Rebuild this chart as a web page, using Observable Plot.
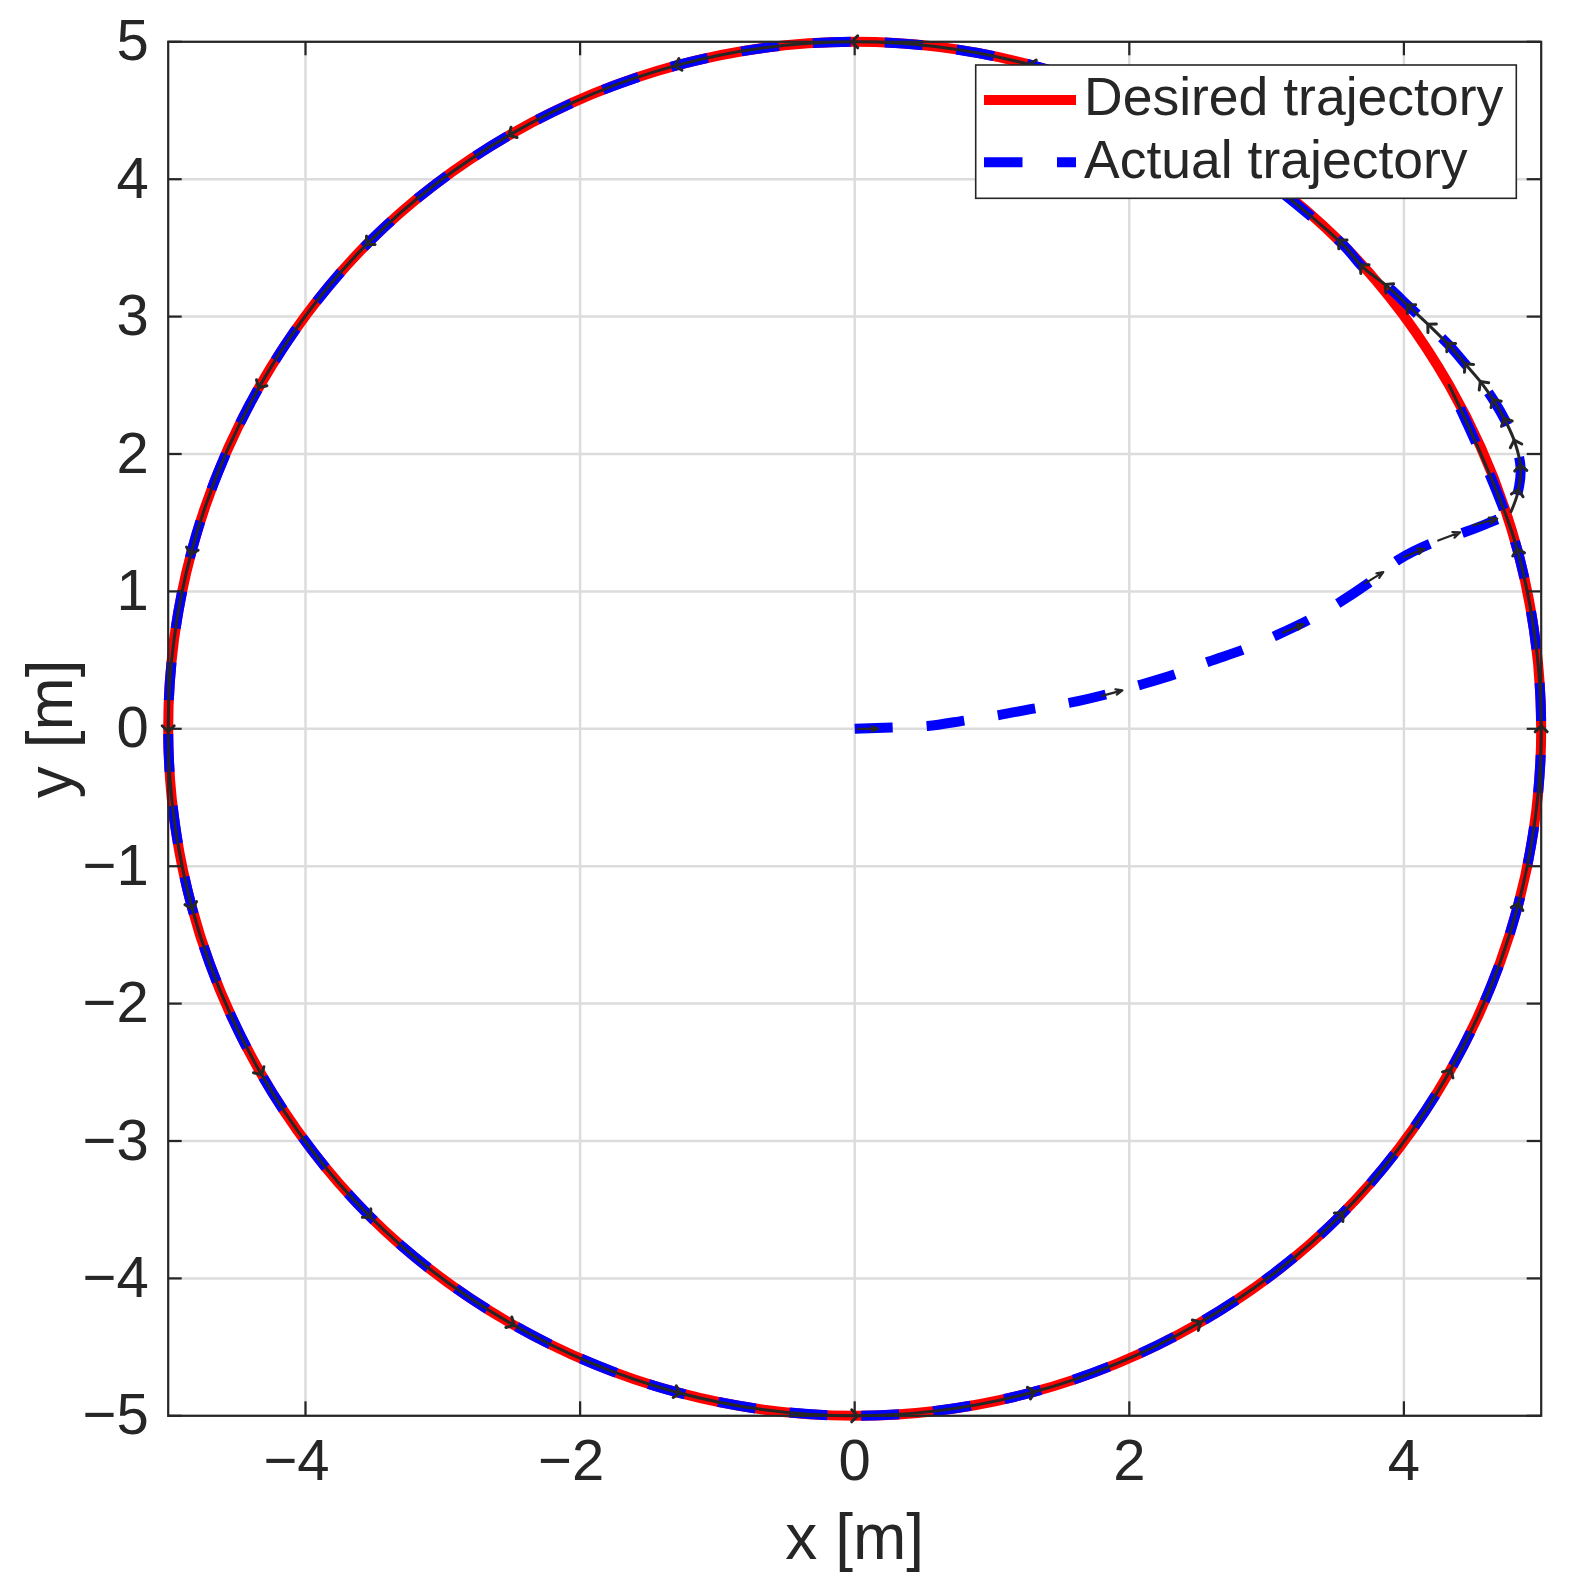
<!DOCTYPE html>
<html>
<head>
<meta charset="utf-8">
<script src="https://cdn.jsdelivr.net/npm/d3@7"></script>
<script src="https://cdn.jsdelivr.net/npm/@observablehq/plot@0.6"></script>
<style>
  html, body { margin: 0; padding: 0; background: #fff; overflow: hidden; }
  #chart { width: 1569px; height: 1590px; }
</style>
</head>
<body>
<div id="chart"></div>
<script>
// ticks and axis labels
const xTicks = [-4, -2, 0, 2, 4];
const yTicks = [-5, -4, -3, -2, -1, 0, 1, 2, 3, 4, 5];
const xLabel = "x [m]";
const yLabel = "y [m]";
const legendNames = ["Desired trajectory", "Actual trajectory"];

// desired trajectory: the reference circle, read every 15 degrees
const desiredX = [5, 4.83, 4.33, 3.54, 2.5, 1.29, 0, -1.29, -2.5, -3.54, -4.33, -4.83,
                  -5, -4.83, -4.33, -3.54, -2.5, -1.29, 0, 1.29, 2.5, 3.54, 4.33, 4.83];
const desiredY = [0, 1.29, 2.5, 3.54, 4.33, 4.83, 5, 4.83, 4.33, 3.54, 2.5, 1.29,
                  0, -1.29, -2.5, -3.54, -4.33, -4.83, -5, -4.83, -4.33, -3.54, -2.5, -1.29];

// actual trajectory: approach from the origin, overshoot loop, then one lap on the circle
const actualX = [0, 0.27, 0.53, 0.80, 1.05, 1.32, 1.57, 1.83, 2.08, 2.34, 2.58, 2.84, 3.07, 3.32, 3.53, 3.77, 3.96, 4.20, 4.44, 4.62, 4.78,
                 4.83, 4.85, 4.81, 4.74, 4.66, 4.57, 4.46, 4.33, 4.19, 4.04, 3.88, 3.70,
                 3.54, 2.5, 1.29, 0, -1.29, -2.5, -3.54, -4.33, -4.83, -5, -4.83, -4.33, -3.54, -2.5, -1.29,
                 0, 1.29, 2.5, 3.54, 4.33, 4.83, 5, 4.83, 4.33];
const actualY = [0, 0.01, 0.02, 0.06, 0.10, 0.15, 0.19, 0.25, 0.32, 0.40, 0.49, 0.58, 0.68, 0.80, 0.92, 1.08, 1.23, 1.35, 1.43, 1.50, 1.58,
                 1.72, 1.90, 2.08, 2.24, 2.38, 2.51, 2.64, 2.79, 2.93, 3.07, 3.22, 3.36,
                 3.54, 4.33, 4.83, 5, 4.83, 4.33, 3.54, 2.5, 1.29, 0, -1.29, -2.5, -3.54, -4.33, -4.83,
                 -5, -4.83, -4.33, -3.54, -2.5, -1.29, 0, 1.29, 2.5];

// quiver arrows visible along the approach
const quiverX1 = [0.02, 1.80, 3.12, 3.72, 4.00, 4.25, 4.50];
const quiverY1 = [0.00, 0.24, 0.70, 1.06, 1.25, 1.37, 1.48];
const quiverX2 = [0.17, 1.95, 3.27, 3.85, 4.15, 4.41, 4.68];
const quiverY2 = [0.00, 0.28, 0.76, 1.14, 1.31, 1.43, 1.53];

const renderChart = () => {
    const ink = "#262626";
    const red = "#ff0000";
    const blue = "#0000ff";
    const dash = "38,34";
    const font = '"Liberation Sans", Arial, Helvetica, sans-serif';

    const desired = desiredX.map((x, i) => ({x, y: desiredY[i]}));
    const actual = actualX.map((x, i) => ({x, y: actualY[i]}));
    // the dense quiver merges into a thin line once the robot reaches the circle
    const junction = actualX.findIndex((x) => x >= 4.75);
    const tracked = actual.slice(junction);
    const quiver = quiverX1.map((x1, i) => ({x1, y1: quiverY1[i], x2: quiverX2[i], y2: quiverY2[i]}));

    const fmt = (d) => (d < 0 ? "\u2212" + Math.abs(d) : String(d));
    const frameW = 1373, frameH = 1374, tick = 14;

    const chart = Plot.plot({
        width: 1569,
        height: 1590,
        marginLeft: 167.7,
        marginRight: 28.3,
        marginTop: 41.3,
        marginBottom: 174.7,
        x: {domain: [-5, 5], axis: null},
        y: {domain: [-5, 5], axis: null},
        style: {fontFamily: font, color: ink, background: "#fff"},
        marks: [
            Plot.gridX(xTicks, {stroke: "#dcdcdc", strokeOpacity: 1, strokeWidth: 2.5}),
            Plot.gridY(yTicks, {stroke: "#dcdcdc", strokeOpacity: 1, strokeWidth: 2.5}),
            Plot.line(desired, {x: "x", y: "y", curve: "catmull-rom-closed", stroke: red, strokeWidth: 10}),
            Plot.line(actual, {x: "x", y: "y", curve: "catmull-rom", stroke: blue, strokeWidth: 10,
                strokeDasharray: dash, strokeLinecap: "butt", strokeLinejoin: "miter"}),
            Plot.line(tracked, {x: "x", y: "y", curve: "catmull-rom", stroke: ink, strokeWidth: 3, markerMid: "arrow"}),
            Plot.arrow(quiver, {x1: "x1", y1: "y1", x2: "x2", y2: "y2", stroke: ink, strokeWidth: 2.2, headLength: 9, headAngle: 45}),
            Plot.frame({stroke: ink, strokeWidth: 2.2}),
            // inward ticks on all four sides (MATLAB box)
            Plot.tickX(xTicks, {x: (d) => d, insetTop: frameH - tick, stroke: ink, strokeWidth: 2.2}),
            Plot.tickX(xTicks, {x: (d) => d, insetBottom: frameH - tick, stroke: ink, strokeWidth: 2.2}),
            Plot.tickY(yTicks, {y: (d) => d, insetRight: frameW - tick, stroke: ink, strokeWidth: 2.2}),
            Plot.tickY(yTicks, {y: (d) => d, insetLeft: frameW - tick, stroke: ink, strokeWidth: 2.2}),
            // tick labels; negative ones sit a little left, like MATLAB
            Plot.text(xTicks.filter((d) => d < 0), {x: (d) => d, frameAnchor: "bottom", lineAnchor: "top",
                dy: 23, dx: -9, text: fmt, fontSize: 58, fill: ink}),
            Plot.text(xTicks.filter((d) => d >= 0), {x: (d) => d, frameAnchor: "bottom", lineAnchor: "top",
                dy: 23, text: fmt, fontSize: 58, fill: ink}),
            Plot.text(yTicks, {y: (d) => d, frameAnchor: "left", textAnchor: "end", lineAnchor: "middle",
                dx: -19.5, text: fmt, fontSize: 58, fill: ink}),
            Plot.text([xLabel], {frameAnchor: "bottom", textAnchor: "middle", lineAnchor: "bottom", dy: 143, fontSize: 64, fill: ink}),
            Plot.text([yLabel], {frameAnchor: "left", textAnchor: "middle", lineAnchor: "bottom", rotate: -90, dx: -96, fontSize: 64, fill: ink})
        ]
    });

    // legend box in the upper right corner of the axes
    const svg = d3.select(chart);
    const lg = svg.append("g")
        .attr("font-family", font).attr("font-size", 53.5).attr("fill", ink).attr("text-anchor", "start");
    lg.append("rect")
        .attr("x", 975.7).attr("y", 65).attr("width", 540.6).attr("height", 133.3)
        .attr("fill", "#fff").attr("stroke", ink).attr("stroke-width", 1.6);
    const sampleStyles = [{stroke: red, dash: null}, {stroke: blue, dash: "38.5,34.5"}];
    legendNames.forEach((name, i) => {
        const cy = 100 + i * 62.3;
        lg.append("line")
            .attr("x1", 984).attr("x2", 1076).attr("y1", cy).attr("y2", cy)
            .attr("stroke", sampleStyles[i].stroke).attr("stroke-width", 10)
            .attr("stroke-dasharray", sampleStyles[i].dash);
        lg.append("text").attr("x", 1084).attr("y", cy + 15.3).attr("text-anchor", "start").text(name);
    });

    document.getElementById("chart").append(chart);
};

if (document.readyState === "loading") {
    document.addEventListener("DOMContentLoaded", renderChart);
} else {
    renderChart();
}
</script>
</body>
</html>
